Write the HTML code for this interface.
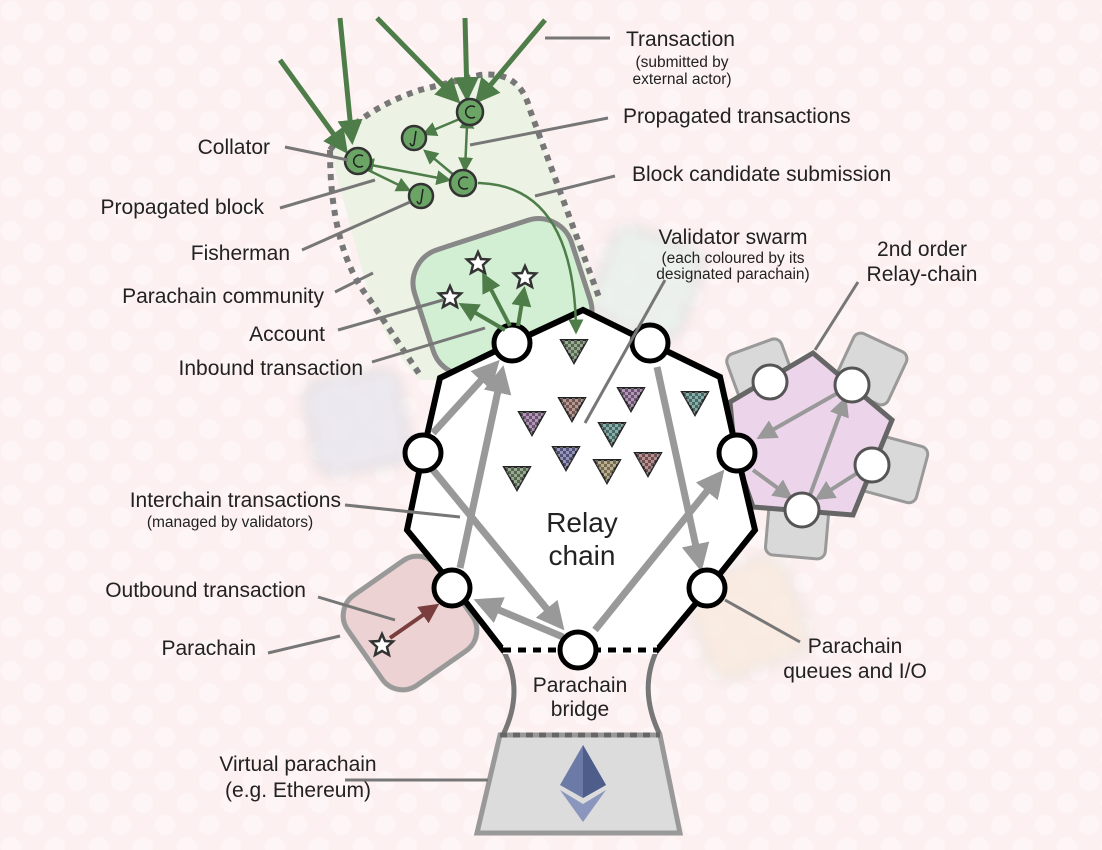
<!DOCTYPE html>
<html><head><meta charset="utf-8"><style>
html,body{margin:0;padding:0;width:1102px;height:850px;overflow:hidden;background:#fdf0f0}
svg{display:block}
text{font-family:"Liberation Sans",sans-serif;fill:#222}
</style></head><body>
<svg width="1102" height="850" viewBox="0 0 1102 850" xmlns="http://www.w3.org/2000/svg">
<defs>
<pattern id="dots" width="44" height="44" patternUnits="userSpaceOnUse">
<circle cx="11" cy="11" r="10" fill="#fff" opacity="0.4"/><circle cx="33" cy="33" r="10" fill="#fff" opacity="0.4"/>
</pattern>
<pattern id="chk" width="6" height="6" patternUnits="userSpaceOnUse"><rect width="6" height="6" fill="#333"/><rect width="3" height="3" fill="#fff" opacity=".6"/><rect x="3" y="3" width="3" height="3" fill="#fff" opacity=".6"/></pattern>
<marker id="ag" markerWidth="5" markerHeight="5" refX="4" refY="2.5" orient="auto" markerUnits="strokeWidth"><path d="M0,0L5,2.5L0,5z" fill="#4e7d4a"/></marker>
<marker id="ag2" markerWidth="6" markerHeight="6" refX="5" refY="3" orient="auto" markerUnits="strokeWidth"><path d="M0,0L6,3L0,6z" fill="#4e7d4a"/></marker>
<marker id="agS" markerWidth="6" markerHeight="6" refX="1" refY="3" orient="auto-start-reverse" markerUnits="strokeWidth"><path d="M0,0L6,3L0,6z" fill="#4e7d4a"/></marker>
<marker id="agr" markerWidth="4" markerHeight="4" refX="3" refY="2" orient="auto" markerUnits="strokeWidth"><path d="M0,0L4,2L0,4z" fill="#999"/></marker>
<marker id="apr" markerWidth="5" markerHeight="5" refX="4" refY="2.5" orient="auto" markerUnits="strokeWidth"><path d="M0,0L5,2.5L0,5z" fill="#999"/></marker>
<marker id="ar" markerWidth="5" markerHeight="5" refX="4" refY="2.5" orient="auto" markerUnits="strokeWidth"><path d="M0,0L5,2.5L0,5z" fill="#7a3e3e"/></marker>
<filter id="blur"><feGaussianBlur stdDeviation="6"/></filter>
<path id="star" d="M0,-11L3,-4L11,-3.5L5,2L7,10L0,6L-7,10L-5,2L-11,-3.5L-3,-4z"/>
<path id="tri" d="M-13,-10L13,-10L0,13z"/>
</defs>
<rect width="1102" height="850" fill="url(#dots)"/>

<g filter="url(#blur)" opacity=".7">
<rect x="310" y="375" width="95" height="95" rx="20" fill="#e4e4ee" stroke="#ccc" stroke-width="4" transform="rotate(-10 357 422)"/>
<rect x="600" y="235" width="95" height="95" rx="20" fill="#e3f0ea" stroke="#ccc" stroke-width="4" transform="rotate(20 647 282)"/>
<rect x="695" y="565" width="105" height="105" rx="20" fill="#f6e8da" stroke="#ddd" stroke-width="4" transform="rotate(-20 747 617)"/>
</g>

<path d="M330,150 Q360,110 420,90 L480,75 Q520,70 530,110 L600,300 L510,380 L420,380 Q390,350 370,300 Z" fill="#eaf3e2" opacity=".9"/>
<path d="M330,150 Q360,110 420,90 L480,75 Q520,70 530,110 L600,300" fill="none" stroke="#777" stroke-width="6" stroke-dasharray="6,6"/>
<path d="M330,150 Q330,250 370,300 L420,375" fill="none" stroke="#777" stroke-width="6" stroke-dasharray="6,6"/>
<rect x="420" y="232" width="165" height="130" rx="35" fill="#d3efd3" stroke="#888" stroke-width="5" transform="rotate(-18 502 297)"/>

<rect x="355" y="568" width="110" height="110" rx="25" fill="#ecd2d2" stroke="#999" stroke-width="5" transform="rotate(-35 410 623)"/>

<g fill="#d9d9d9" stroke="#999" stroke-width="3">
<rect x="732" y="345" width="58" height="55" rx="8" transform="rotate(-20 761 372)"/>
<rect x="842" y="340" width="58" height="58" rx="8" transform="rotate(25 871 369)"/>
<rect x="865" y="440" width="58" height="58" rx="8" transform="rotate(15 894 469)"/>
<rect x="767" y="505" width="60" height="52" rx="8" transform="rotate(5 797 531)"/>
</g>
<path d="M730,402 L813,353 L892,420 L853,515 L753,507 L735,455 Z" fill="#ecd5ea" stroke="#666" stroke-width="5"/>

<path d="M503,650 Q525,690 503,735 M657,650 Q638,690 660,735" fill="none" stroke="#777" stroke-width="5"/>
<path d="M500,735 L660,735 L680,833 L477,833 Z" fill="#dcdcdc" stroke="#999" stroke-width="5"/>
<line x1="500" y1="735" x2="660" y2="735" stroke="#666" stroke-width="5" stroke-dasharray="7,6"/>
<path d="M583,745 L560,785 L583,798 L606,785 Z" fill="#6b7aa6"/>
<path d="M583,745 L583,798 L606,785 Z" fill="#4e5d8a"/>
<path d="M560,790 L583,822 L606,790 L583,804 Z" fill="#8a96bd"/>

<path d="M512,343 L583,310 L650,343 L720,377 L737,453 L755,530 L707,590 L657,650 L503,650 L455,588 L407,530 L423,453 L440,378 Z" fill="#fff" stroke="#000" stroke-width="6" stroke-linejoin="miter"/>
<line x1="503" y1="650" x2="657" y2="650" stroke="#fff" stroke-width="8"/>
<line x1="503" y1="650" x2="657" y2="650" stroke="#000" stroke-width="5" stroke-dasharray="8,7"/>

<g stroke="#222" stroke-width="2">
<use href="#tri" x="574" y="350" fill="#7fa870"/>
<use href="#tri" x="532" y="422" fill="#b67bc0"/>
<use href="#tri" x="572" y="408" fill="#c08070"/>
<use href="#tri" x="631" y="398" fill="#b67bc0"/>
<use href="#tri" x="695" y="402" fill="#5fb0a5"/>
<use href="#tri" x="612" y="433" fill="#5fb0a5"/>
<use href="#tri" x="566" y="457" fill="#7a7ad0"/>
<use href="#tri" x="517" y="477" fill="#7fa870"/>
<use href="#tri" x="607" y="470" fill="#c8b070"/>
<use href="#tri" x="648" y="463" fill="#c07070"/>
</g>
<g fill="url(#chk)" opacity=".55">
<use href="#tri" x="574" y="350"/><use href="#tri" x="532" y="422"/><use href="#tri" x="572" y="408"/><use href="#tri" x="631" y="398"/><use href="#tri" x="695" y="402"/><use href="#tri" x="612" y="433"/><use href="#tri" x="566" y="457"/><use href="#tri" x="517" y="477"/><use href="#tri" x="607" y="470"/><use href="#tri" x="648" y="463"/>
</g>

<g stroke="#999" stroke-width="7" marker-end="url(#agr)" fill="none">
<line x1="460" y1="568" x2="502" y2="372"/>
<line x1="433" y1="433" x2="495" y2="365"/>
<line x1="433" y1="470" x2="560" y2="625"/>
<line x1="563" y1="637" x2="480" y2="602"/>
<line x1="595" y1="630" x2="720" y2="475"/>
<line x1="657" y1="367" x2="700" y2="565"/>
</g>
<g stroke="#999" stroke-width="4" marker-end="url(#apr)">
<line x1="843" y1="390" x2="760" y2="437"/>
<line x1="810" y1="495" x2="845" y2="400"/>
<line x1="753" y1="470" x2="790" y2="497"/>
<line x1="862" y1="470" x2="818" y2="498"/>
</g>
<g fill="#fff" stroke="#555" stroke-width="3">
<circle cx="770" cy="382" r="17"/><circle cx="852" cy="385" r="17"/><circle cx="872" cy="465" r="17"/><circle cx="802" cy="510" r="17"/>
</g>

<g fill="#fff" stroke="#000" stroke-width="5">
<circle cx="512" cy="343" r="18"/><circle cx="650" cy="343" r="18"/><circle cx="423" cy="453" r="18"/><circle cx="737" cy="453" r="18"/><circle cx="452" cy="588" r="18"/><circle cx="707" cy="588" r="18"/><circle cx="578" cy="650" r="18"/>
</g>

<g stroke="#4e7d4a" stroke-width="4" marker-end="url(#ag)">
<line x1="505" y1="330" x2="462" y2="305"/>
<line x1="510" y1="326" x2="484" y2="276"/>
<line x1="518" y1="326" x2="524" y2="290"/>
</g>
<g fill="#fff" stroke="#333" stroke-width="2.5">
<use href="#star" x="450" y="297"/><use href="#star" x="478" y="263"/><use href="#star" x="525" y="277"/>
<use href="#star" x="382" y="645"/>
</g>
<line x1="390" y1="638" x2="436" y2="606" stroke="#7a3e3e" stroke-width="4" marker-end="url(#ar)"/>

<g stroke="#4e7d4a" stroke-width="5" marker-end="url(#ag)">
<line x1="340" y1="18" x2="352" y2="140"/>
<line x1="280" y1="60" x2="345" y2="150"/>
<line x1="377" y1="18" x2="457" y2="100"/>
<line x1="465" y1="18" x2="467" y2="97"/>
<line x1="545" y1="20" x2="478" y2="100"/>
</g>
<g stroke="#4e7d4a" stroke-width="2.5">
<line x1="462" y1="118" x2="424" y2="134" marker-end="url(#ag2)"/>
<line x1="467" y1="126" x2="465" y2="170" marker-end="url(#ag2)" marker-start="url(#agS)"/>
<line x1="455" y1="176" x2="425" y2="151" marker-end="url(#ag2)"/>
<line x1="371" y1="165" x2="449" y2="180" marker-end="url(#ag2)" marker-start="url(#agS)"/>
<line x1="368" y1="170" x2="409" y2="190" marker-end="url(#ag2)"/>
</g>
<path d="M478,183 Q575,185 576,332" fill="none" stroke="#4e7d4a" stroke-width="2.5" marker-end="url(#ag2)"/>
<g fill="#6aa565" stroke="#333" stroke-width="2.5">
<circle cx="470" cy="112" r="13"/><circle cx="358" cy="161" r="13"/><circle cx="463" cy="183" r="13"/><circle cx="414" cy="138" r="12"/><circle cx="421" cy="196" r="12"/>
</g>
<g fill="none" stroke="#222" stroke-width="1.5">
<path d="M475,107 A6,6 0 1 0 475,117"/><path d="M363,156 A6,6 0 1 0 363,166"/><path d="M468,178 A6,6 0 1 0 468,188"/>
<path d="M416,131 L414,144 Q412,148 410,143"/><path d="M423,189 L421,202 Q419,206 417,201"/>
</g>

<g stroke="#777" stroke-width="3">
<line x1="545" y1="38" x2="610" y2="38"/>
<line x1="470" y1="145" x2="608" y2="118"/>
<line x1="535" y1="196" x2="615" y2="176"/>
<line x1="665" y1="280" x2="585" y2="423"/>
<line x1="858" y1="282" x2="815" y2="350"/>
<line x1="285" y1="147" x2="348" y2="160"/>
<line x1="280" y1="208" x2="375" y2="180"/>
<line x1="302" y1="250" x2="410" y2="202"/>
<line x1="335" y1="292" x2="373" y2="273"/>
<line x1="338" y1="330" x2="443" y2="300"/>
<line x1="372" y1="362" x2="485" y2="328"/>
<line x1="345" y1="505" x2="460" y2="517"/>
<line x1="318" y1="597" x2="395" y2="620"/>
<line x1="268" y1="653" x2="340" y2="636"/>
<line x1="725" y1="600" x2="800" y2="642"/>
<line x1="345" y1="780" x2="488" y2="780"/>
</g>

<g font-size="21">
<text x="626" y="46">Transaction</text>
<text x="623" y="123">Propagated transactions</text>
<text x="632" y="181">Block candidate submission</text>
<text x="733" y="244" text-anchor="middle">Validator swarm</text>
<text x="922" y="256" text-anchor="middle">2nd order</text>
<text x="922" y="281" text-anchor="middle">Relay-chain</text>
<text x="270" y="154" text-anchor="end">Collator</text>
<text x="264" y="214" text-anchor="end">Propagated block</text>
<text x="290" y="260" text-anchor="end">Fisherman</text>
<text x="324" y="303" text-anchor="end">Parachain community</text>
<text x="325" y="341" text-anchor="end">Account</text>
<text x="363" y="375" text-anchor="end">Inbound transaction</text>
<text x="341" y="507" text-anchor="end">Interchain transactions</text>
<text x="306" y="597" text-anchor="end">Outbound transaction</text>
<text x="256" y="655" text-anchor="end">Parachain</text>
<text x="580" y="692" text-anchor="middle">Parachain</text>
<text x="580" y="716" text-anchor="middle">bridge</text>
<text x="855" y="653" text-anchor="middle">Parachain</text>
<text x="855" y="678" text-anchor="middle">queues and I/O</text>
<text x="298" y="771" text-anchor="middle">Virtual parachain</text>
<text x="298" y="797" text-anchor="middle">(e.g. Ethereum)</text>
</g>
<g font-size="15.5" text-anchor="middle">
<text x="682" y="67">(submitted by</text>
<text x="682" y="84">external actor)</text>
<text x="733" y="263">(each coloured by its</text>
<text x="733" y="279">designated parachain)</text>
<text x="230" y="527">(managed by validators)</text>
</g>
<g font-size="28" text-anchor="middle">
<text x="582" y="532">Relay</text>
<text x="582" y="565">chain</text>
</g>
</svg>
</body></html>
